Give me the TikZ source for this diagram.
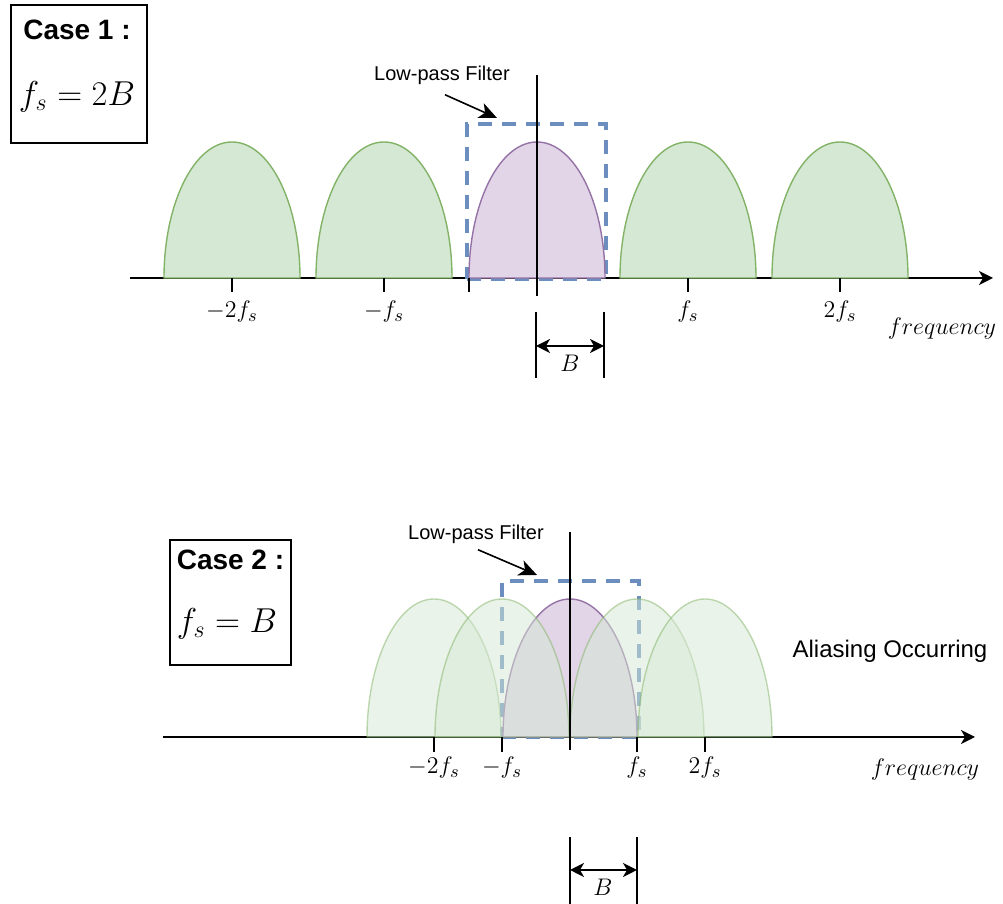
\documentclass[tikz,border=0pt]{standalone}
\usepackage{amsmath}
\usepackage{fontspec}
\setsansfont{Liberation Sans}
\usetikzlibrary{arrows.meta, positioning}

\definecolor{greenfill}{HTML}{D5E8D4}
\definecolor{greenline}{HTML}{82B366}
\definecolor{purplefill}{HTML}{E1D5E7}
\definecolor{purpleline}{HTML}{9673A6}
\definecolor{filterblue}{HTML}{6C8EBF}

\begin{document}
\begin{tikzpicture}[x=0.5pt, y=0.5pt, line width=0.75pt, >={Stealth[length=7pt, width=7pt, inset=2pt]},
    lobe/.style={draw=greenline, fill=greenfill, line width=0.7pt},
    faintlobe/.style={lobe, opacity=0.5},
    passlobe/.style={draw=purpleline, fill=purplefill, line width=0.7pt},
    filterbox/.style={draw=filterblue, line width=1.8pt, dash pattern=on 7pt off 5pt, inner sep=0pt, outer sep=0pt},
    casebox/.style={draw, line width=0.75pt, inner sep=0pt},
    casetitle/.style={font=\sffamily\bfseries\fontsize{14}{16}\selectfont},
    caseeq/.style={font=\fontsize{18.5}{22}\selectfont},
    note/.style={font=\sffamily\fontsize{10}{12}\selectfont},
    pointer/.style={-{Stealth[length=9pt, width=8pt, inset=2.5pt]}, line width=0.8pt},
    bignote/.style={font=\sffamily\fontsize{12}{14}\selectfont},
    freqlabel/.style={font=\fontsize{12.5}{14}\selectfont, inner sep=1pt}]
    \useasboundingbox (0,0) rectangle (1003,904);

    % Case 1 : f_s = 2B
    \node[casebox, minimum width=68pt, minimum height=69pt] (case1) at (79,830) {};
    \node[casetitle] (case1title) at (77,874) {Case 1 :};
    \node[caseeq] (case1eq) at (77,807) {$f_s = 2B$};

    % Axis
    \coordinate (axis1start) at (130,626);
    \coordinate (axis1end) at (993,626);
    \draw[->] (axis1start) -- (axis1end);

    % Filter
    \node[filterbox, minimum width=69.5pt, minimum height=77.5pt] (filter1) at (536.5,702.5) {};

    % Spectrum copies
    \foreach \c in {232,384,688,840}
        \draw[lobe] ({\c-68},626) arc[start angle=180, end angle=0, x radius=34pt, y radius=68pt] -- cycle;
    \draw[passlobe] (469,626) arc[start angle=180, end angle=0, x radius=34pt, y radius=68pt] -- cycle;

    % Centre line and ticks
    \draw[line width=0.6pt] (537,829) -- (537,608);
    \foreach \c in {232,384,469,688,840}
        \draw (\c,626) -- (\c,612);
    \node[freqlabel] (t1m2) at (232,592) {$-2f_s$};
    \node[freqlabel] (t1m1) at (384,592) {$-f_s$};
    \node[freqlabel] (t1p1) at (688,592) {$f_s$};
    \node[freqlabel] (t1p2) at (840,592) {$2f_s$};
    \node[freqlabel] (freq1) at (942,575) {$frequency$};

    % Low-pass label
    \node[note] (lpf1) at (442,829) {Low-pass Filter};
    \draw[pointer] ([shift={(3,-3)}]lpf1.south) -- ([shift={(30,6)}]filter1.north west);

    % Bandwidth
    \coordinate (b1left) at (536,558);
    \coordinate (b1right) at (604,558);
    \draw (536,592) -- (536,526);
    \draw (604,592) -- (604,526);
    \draw[<->] (b1left) -- (b1right);
    \node[freqlabel] (b1) at (570,541) {$B$};

    % Case 2 : f_s = B
    \node[casebox, minimum width=60.5pt, minimum height=62.5pt] (case2) at (230.5,301.5) {};
    \node[casetitle] (case2title) at (230.5,344) {Case 2 :};
    \node[caseeq] (case2eq) at (227,280) {$f_s = B$};

    % Axis
    \coordinate (axis2start) at (163,167);
    \coordinate (axis2end) at (975,167);
    \draw[->] (axis2start) -- (axis2end);

    % Filter
    \node[filterbox, minimum width=68.5pt, minimum height=78pt] (filter2) at (570.5,245) {};

    % Overlapping copies
    \draw[passlobe] (503,167) arc[start angle=180, end angle=0, x radius=33.5pt, y radius=69pt] -- cycle;
    \foreach \c in {434,502,637,705}
        \draw[faintlobe] ({\c-67},167) arc[start angle=180, end angle=0, x radius=33.5pt, y radius=69pt] -- cycle;

    % Centre line and ticks
    \draw[line width=0.6pt] (570,372) -- (570,154);
    \foreach \c in {434,502,637,705}
        \draw (\c,167) -- (\c,152);
    \node[freqlabel] (t2m2) at (434,136) {$-2f_s$};
    \node[freqlabel] (t2m1) at (502,136) {$-f_s$};
    \node[freqlabel] (t2p1) at (637,136) {$f_s$};
    \node[freqlabel] (t2p2) at (705,136) {$2f_s$};
    \node[freqlabel] (freq2) at (925,134) {$frequency$};

    % Low-pass label
    \node[note] (lpf2) at (476,370) {Low-pass Filter};
    \draw[pointer] ([shift={(2,1)}]lpf2.south) -- ([shift={(35,6)}]filter2.north west);

    \node[bignote] (alias) at (890,253) {Aliasing Occurring};

    % Bandwidth
    \coordinate (b2left) at (570,34);
    \coordinate (b2right) at (637,34);
    \draw (570,67) -- (570,0);
    \draw (637,67) -- (637,0);
    \draw[<->] (b2left) -- (b2right);
    \node[freqlabel] (b2) at (603,17) {$B$};
\end{tikzpicture}
\end{document}
